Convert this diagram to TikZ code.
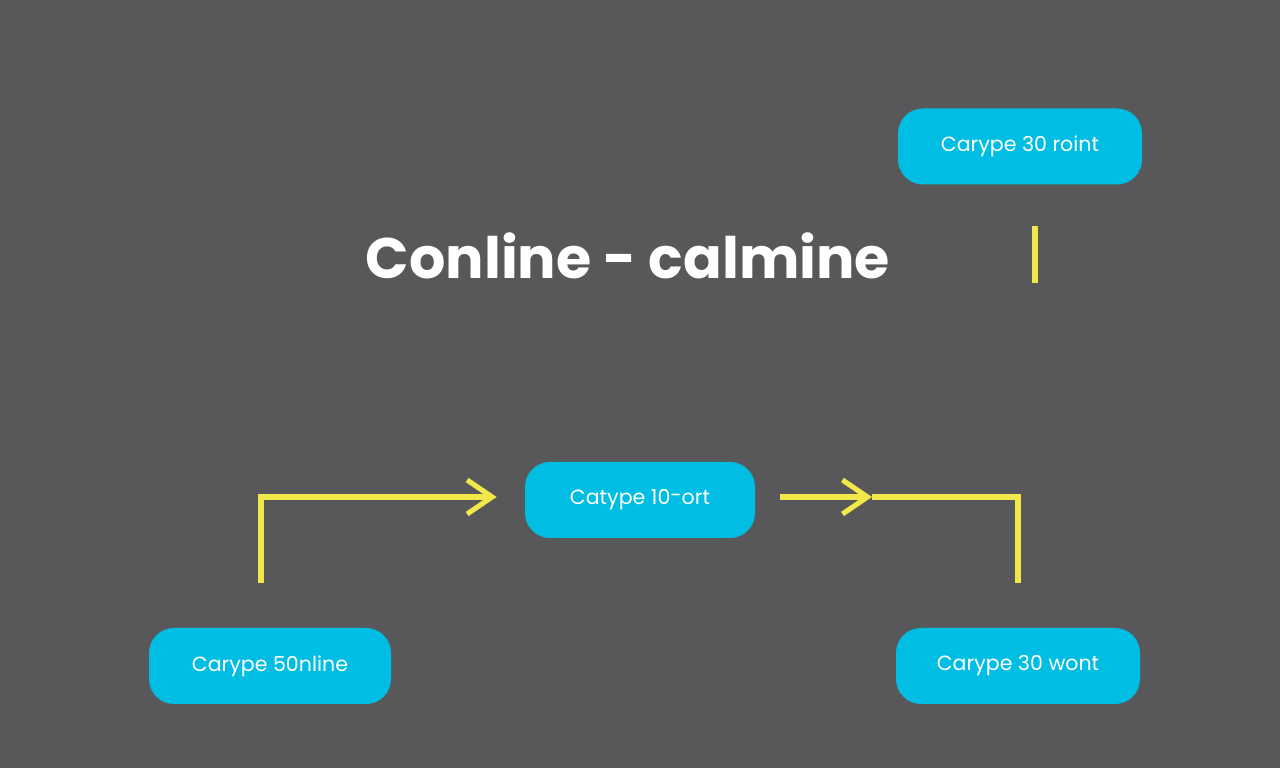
\documentclass[tikz,border=0pt]{standalone}
\usepackage{fontspec}
\setmainfont{Poppins}
\usetikzlibrary{arrows.meta}
\definecolor{bgray}{HTML}{58585A}
\definecolor{boxcyan}{HTML}{00BEE3}
\definecolor{lineyellow}{HTML}{F2E84A}
\tikzset{
    box/.style={fill=boxcyan,rounded corners=0.5cm,minimum width=4.88cm,minimum height=1.52cm,text=white,font=\fontsize{11.7}{13}\selectfont},
    link/.style={lineyellow,line width=2.9pt},
    conn/.style={link,-{Straight Barb[length=0.5cm,width=0.68cm,line width=2.9pt]}}
}
\begin{document}
\begin{tikzpicture}
    \fill[bgray] (0,0) rectangle (25.6,15.36);
    \useasboundingbox (0,0) rectangle (25.6,15.36);
    \node (title) at (12.56,10.24) {\fontsize{32.5}{36}\selectfont\bfseries\color{white}Conline - calmine};
    \node[box] (tr) at (20.4,12.43) {Carype 30 roint};
    \node[box,minimum width=4.6cm] (mid) at (12.8,5.36) {Catype 10\raisebox{0.2ex}{-}ort};
    \node[box,minimum width=4.84cm] (bl) at (5.4,2.04) {Carype 50nline};
    \node[box] (br) at (20.36,2.04) {Carype 30 wont};
    \coordinate (jn) at (17.44,5.42);
    \draw[conn] ([xshift=-0.18cm,yshift=0.9cm]bl.north) |- ([xshift=-0.56cm,yshift=0.06cm]mid.west);
    \draw[conn] ([xshift=0.5cm,yshift=0.06cm]mid.east) -- (jn);
    \draw[link] (jn) -| ([yshift=0.9cm]br.north);
    \draw[link] ([xshift=0.3cm,yshift=-0.82cm]tr.south) -- ++(0,-1.14);
\end{tikzpicture}
\end{document}
